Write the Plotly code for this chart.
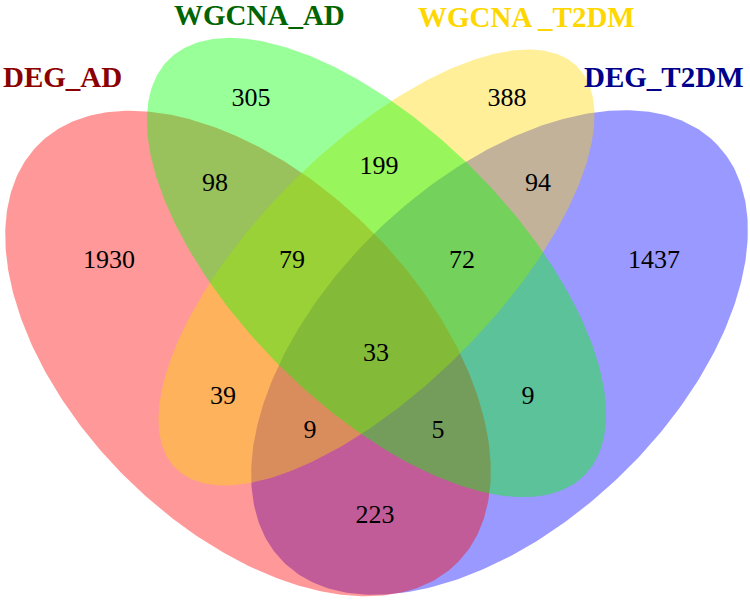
import numpy as np
import plotly.graph_objects as go

# sets, in drawing order
set_names = ["DEG_T2DM", "DEG_AD", "WGCNA _T2DM", "WGCNA_AD"]
set_colors = ["rgba(0,0,255,0.4)", "rgba(255,0,0,0.4)", "rgba(255,215,0,0.4)", "rgba(0,255,0,0.4)"]
label_colors = ["#00008B", "#8B0000", "#FFD700", "#006400"]

# region counts
counts = [305, 388, 1930, 1437, 98, 199, 94, 79, 72, 33, 39, 9, 9, 5, 223]

# ellipse geometry (cx, cy, semi-major, semi-minor, angle deg) in pixel space, y down
ellipses = [
    (499.5, 352.5, 301, 172.6, -43.6),
    (248.0, 353.5, 296, 174.0, 45.0),
    (376.5, 267.5, 284, 120.0, -45.0),
    (376.5, 267.5, 294, 138.0, 45.0),
]
count_pos = [(251, 99), (507, 99), (109, 261), (654, 261), (215, 184), (379, 167),
             (538, 184), (292, 261), (462, 261), (376, 354), (223, 397), (310, 431),
             (528, 397), (438, 431), (375, 516)]
label_pos = [(664, 77), (62, 77), (526, 17), (259, 15)]

fig = go.Figure()
t = np.linspace(0, 2 * np.pi, 400)
for (cx, cy, a, b, ang), col in zip(ellipses, set_colors):
    th = np.radians(ang)
    x = cx + a * np.cos(t) * np.cos(th) - b * np.sin(t) * np.sin(th)
    y = cy + a * np.cos(t) * np.sin(th) + b * np.sin(t) * np.cos(th)
    fig.add_trace(go.Scatter(x=x, y=y, mode="lines", fill="toself", fillcolor=col,
                             line=dict(width=0), hoverinfo="skip"))

fig.add_trace(go.Scatter(x=[p[0] for p in count_pos], y=[p[1] for p in count_pos],
                         mode="text", text=[str(c) for c in counts],
                         textfont=dict(family="Liberation Serif", size=26, color="black"),
                         hoverinfo="skip"))

for name, col, (lx, ly) in zip(set_names, label_colors, label_pos):
    fig.add_annotation(x=lx, y=ly, text="<b>%s</b>" % name, showarrow=False,
                       font=dict(family="Liberation Serif", size=29, color=col))

fig.update_layout(width=750, height=600, margin=dict(l=0, r=0, t=0, b=0),
                  plot_bgcolor="white", paper_bgcolor="white", showlegend=False)
fig.update_xaxes(range=[0, 750], visible=False)
fig.update_yaxes(range=[600, 0], visible=False)
# drop the browser's default body margin so the figure sits at 0,0
fig.write_html("out.html", config={"displayModeBar": False},
               post_script="document.body.style.margin='0';document.body.style.overflow='hidden';")
